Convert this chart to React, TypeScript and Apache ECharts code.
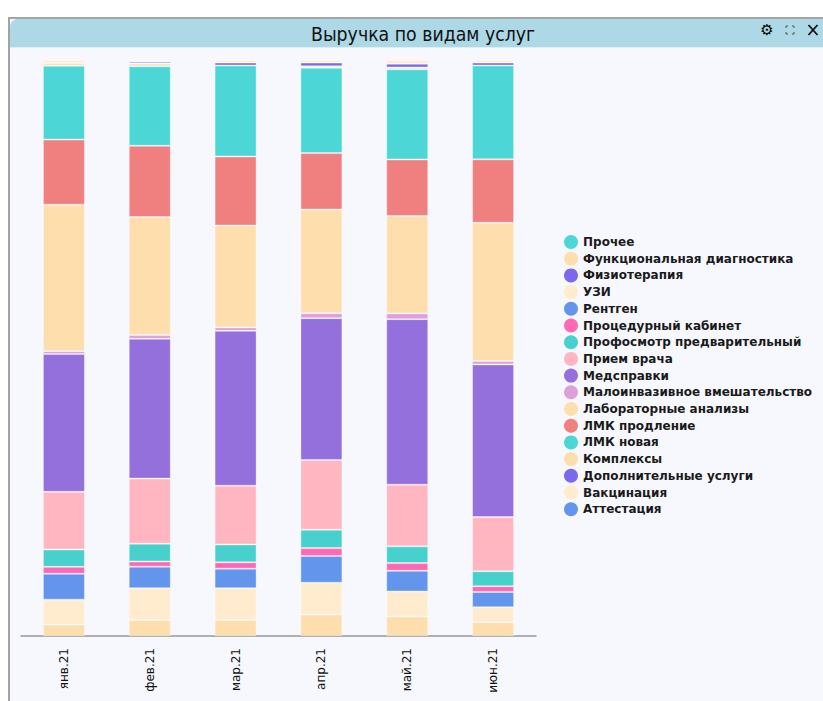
import React, { useEffect, useRef } from "react";
import * as echarts from "echarts";

const categories = ["янв.21", "фев.21", "мар.21", "апр.21", "май.21", "июн.21"];

const seriesNames = [
  "Прочее",
  "Функциональная диагностика",
  "Физиотерапия",
  "УЗИ",
  "Рентген",
  "Процедурный кабинет",
  "Профосмотр предварительный",
  "Прием врача",
  "Медсправки",
  "Малоинвазивное вмешательство",
  "Лабораторные анализы",
  "ЛМК продление",
  "ЛМК новая",
  "Комплексы",
  "Дополнительные услуги",
  "Вакцинация",
  "Аттестация",
];

const prochee = [0, 0, 0, 0, 0, 0];
const funkDiag = [2.0, 2.8, 2.8, 3.75, 3.4, 2.4];
const fizio = [0, 0, 0, 0, 0, 0];
const uzi = [4.3, 5.5, 5.5, 5.5, 4.3, 2.6];
const rentgen = [4.5, 3.75, 3.4, 4.65, 3.6, 2.65];
const procedur = [1.2, 0.9, 1.1, 1.35, 1.35, 1.0];
const profosmotr = [3.0, 3.1, 3.1, 3.2, 2.9, 2.6];
const priem = [10.0, 11.3, 10.2, 12.1, 10.7, 9.4];
const medspravki = [23.9, 24.3, 26.9, 24.6, 28.7, 26.5];
const maloinv = [0.5, 0.65, 0.6, 0.85, 1.0, 0.6];
const lab = [25.4, 20.5, 17.7, 18.0, 16.9, 24.0];
const lmkProd = [11.3, 12.4, 12.0, 9.8, 9.8, 11.0];
const lmkNew = [12.8, 13.8, 15.8, 14.8, 15.65, 16.3];
const kompleksy = [0.5, 0.5, 0, 0.25, 0.3, 0];
const dop = [0, 0.3, 0.5, 0.65, 0.65, 0.5];
const vakc = [0.5, 0.3, 0.45, 0.45, 0.65, 0.45];
const attest = [0, 0, 0, 0, 0, 0];

const seriesValues = [
  prochee, funkDiag, fizio, uzi, rentgen, procedur, profosmotr, priem,
  medspravki, maloinv, lab, lmkProd, lmkNew, kompleksy, dop, vakc, attest,
];

const colors = [
  "#4DD6D6", "#FFDEAD", "#7B68EE", "#FFEBCD", "#6495ED", "#FF69B4",
  "#48D1CC", "#FFB6C1", "#9370DB", "#DDA0DD", "#FFDEAD", "#F08080",
  "#4DD6D6", "#FFDEAD", "#7B68EE", "#FFEBCD", "#6495ED",
];

export default function App() {
  const ref = useRef<HTMLDivElement>(null);
  useEffect(() => {
    if (!ref.current) return;
    const chart = echarts.init(ref.current, null, { renderer: "svg" });
    const totals = categories.map((_, i) =>
      seriesValues.reduce((s, arr) => s + arr[i], 0)
    );
    const series = seriesNames.map((name, k) => ({
      name,
      type: "bar",
      stack: "total",
      barWidth: 42,
      itemStyle: {
        color: colors[k],
        borderColor: "rgba(255,255,255,0.35)",
        borderWidth: 1,
      },
      data: seriesValues[k].map((v, i) => (v > 0 ? (v / totals[i]) * 100 : null)),
    }));
    chart.setOption({
      animation: false,
      backgroundColor: "#ffffff",
      color: colors,
      title: {
        text: "Выручка по видам услуг",
        left: 306,
        top: 20,
        textStyle: {
          fontFamily: "DejaVu Sans Condensed",
          fontSize: 19.3,
          fontWeight: "normal",
          color: "#111",
        },
      },
      graphic: [
        {
          type: "rect",
          z: -10,
          silent: true,
          shape: { x: 9, y: 18, width: 830, height: 700 },
          style: { fill: "#F7F8FD", stroke: "#A3A3A3", lineWidth: 2 },
        },
        {
          type: "rect",
          z: -9,
          silent: true,
          shape: { x: 10, y: 19, width: 820, height: 28, r: [8, 0, 0, 0] },
          style: { fill: "#ADD8E6" },
        },
        {
          type: "line",
          z: -8,
          silent: true,
          shape: { x1: 10, y1: 47.5, x2: 823, y2: 47.5 },
          style: { stroke: "#DDEFF5", lineWidth: 1 },
        },
        {
          type: "text",
          z: 5,
          silent: true,
          x: 767,
          y: 30,
          style: {
            text: "⚙",
            fontSize: 15,
            fontWeight: "bold",
            fontFamily: "DejaVu Sans",
            fill: "#000",
            align: "center",
            verticalAlign: "middle",
          },
        },
        {
          type: "group",
          x: 790,
          y: 30,
          z: 5,
          silent: true,
          children: [
            { type: "polyline", shape: { points: [[-4, -2], [-4, -4], [-2, -4]] }, style: { stroke: "#555", lineWidth: 1, fill: "none" } },
            { type: "polyline", shape: { points: [[2, -4], [4, -4], [4, -2]] }, style: { stroke: "#555", lineWidth: 1, fill: "none" } },
            { type: "polyline", shape: { points: [[-4, 2], [-4, 4], [-2, 4]] }, style: { stroke: "#555", lineWidth: 1, fill: "none" } },
            { type: "polyline", shape: { points: [[2, 4], [4, 4], [4, 2]] }, style: { stroke: "#555", lineWidth: 1, fill: "none" } },
          ],
        },
        {
          type: "group",
          x: 813,
          y: 30,
          z: 5,
          silent: true,
          children: [
            { type: "line", shape: { x1: -4.5, y1: -5, x2: 4.5, y2: 5 }, style: { stroke: "#111", lineWidth: 1.8 } },
            { type: "line", shape: { x1: 4.5, y1: -5, x2: -4.5, y2: 5 }, style: { stroke: "#111", lineWidth: 1.8 } },
          ],
        },
      ],
      legend: {
        orient: "vertical",
        left: 559,
        top: 230,
        icon: "circle",
        itemWidth: 14,
        itemHeight: 14,
        itemGap: 2.7,
        itemStyle: { borderWidth: 0 },
        textStyle: {
          fontFamily: "DejaVu Sans",
          fontSize: 12,
          fontWeight: "bold",
          color: "#1a1a1a",
        },
        data: seriesNames,
      },
      grid: { left: 21, top: 60, width: 515, height: 576, containLabel: false },
      xAxis: {
        type: "category",
        data: categories,
        axisLine: { lineStyle: { color: "#999", width: 1.5 } },
        axisTick: { show: false },
        axisLabel: {
          rotate: 90,
          margin: 12,
          fontFamily: "DejaVu Sans",
          fontSize: 12,
          color: "#111",
        },
      },
      yAxis: {
        type: "value",
        min: 0,
        max: 100,
        show: false,
        splitLine: { show: false },
      },
      series,
    });
    return () => chart.dispose();
  }, []);
  return (
    <div
      ref={ref}
      style={{ position: "absolute", left: 0, top: 0, width: 823, height: 701 }}
    />
  );
}
